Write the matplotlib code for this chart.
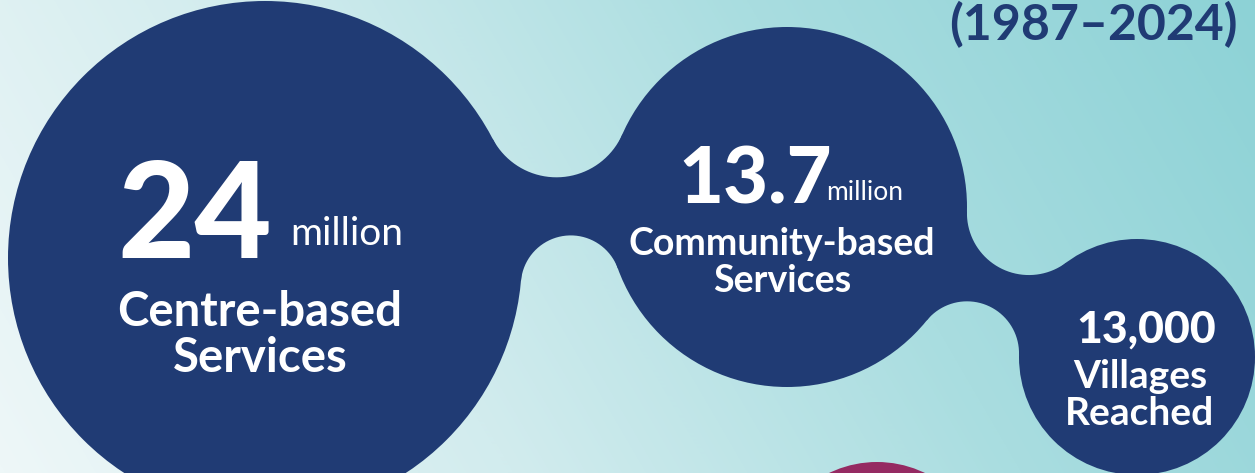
import numpy as np
import matplotlib.pyplot as plt
from matplotlib.colors import LinearSegmentedColormap
from matplotlib.patches import Circle, Polygon
from matplotlib import font_manager

W, H = 1255, 473

# headline figures
values = ["24", "13.7", "13,000"]
units = ["million", "million", ""]
labels = [["Centre-based", "Services"], ["Community-based", "Services"], ["Villages", "Reached"]]
period = "(1987\u20132024)"

# bubble layout in pixels (x, y from top-left)
centres = [(265, 258), (787, 207), (1137, 357)]
radii = [257, 180, 118]
# fillet radii (top side, bottom side) for the necks between neighbours
fillets = [(72, 50), (62, 52)]
NAVY = "#203B74"
PINK = "#952A62"

fams = {f.name for f in font_manager.fontManager.ttflist}
heavy = "Lato" if "Lato" in fams else "DejaVu Sans"

fig = plt.figure(figsize=(W / 100, H / 100), dpi=100)
ax = fig.add_axes([0, 0, 1, 1])
ax.set_xlim(0, W)
ax.set_ylim(H, 0)
ax.axis("off")

# background gradient
xx, yy = np.meshgrid(np.arange(W), np.arange(H))
t = 0.82 * xx / W + 0.18 * (1 - yy / H)
bg = LinearSegmentedColormap.from_list("bg", ["#EEF7F8", "#D2ECEE", "#A9DDE0", "#8DD2D6"])
ax.imshow(t, cmap=bg, extent=[0, W, H, 0], vmin=0, vmax=1, aspect="auto", zorder=0)


def fillet_centre(c1, r1, c2, r2, rf, side):
    c1, c2 = np.array(c1, float), np.array(c2, float)
    D = np.linalg.norm(c2 - c1)
    u = (c2 - c1) / D
    n = np.array([u[1], -u[0]]) * side   # side=+1 -> upward on screen
    R1, R2 = r1 + rf, r2 + rf
    a = (R1**2 - R2**2 + D**2) / (2 * D)
    h = np.sqrt(max(R1**2 - a**2, 0.0))
    return c1 + a * u + h * n


def arc(F, rf, p, q, n=40):
    a0 = np.arctan2(*(p - F)[::-1])
    a1 = np.arctan2(*(q - F)[::-1])
    da = (a1 - a0 + np.pi) % (2 * np.pi) - np.pi
    ang = a0 + np.linspace(0, da, n)
    return np.c_[F[0] + rf * np.cos(ang), F[1] + rf * np.sin(ang)]


def neck(c1, r1, c2, r2, rf_top, rf_bot):
    c1a, c2a = np.array(c1, float), np.array(c2, float)
    pts = [c1a]
    for rf, side in [(rf_top, 1), (rf_bot, -1)]:
        F = fillet_centre(c1, r1, c2, r2, rf, side)
        t1 = c1a + r1 * (F - c1a) / np.linalg.norm(F - c1a)
        t2 = c2a + r2 * (F - c2a) / np.linalg.norm(F - c2a)
        seg = arc(F, rf, t1, t2)
        if side == -1:
            seg = seg[::-1]
        pts.extend(seg)
        pts.append(c2a if side == 1 else c1a)
    return np.array(pts)


for (c, r) in zip(centres, radii):
    ax.add_patch(Circle(c, r, color=NAVY, lw=0, zorder=1))
for i, (rt, rb) in enumerate(fillets):
    poly = neck(centres[i], radii[i], centres[i + 1], radii[i + 1], rt, rb)
    ax.add_patch(Polygon(poly, closed=True, color=NAVY, lw=0, zorder=1))

# partial pink bubble at the bottom
ax.add_patch(Circle((877, 572), 110, color=PINK, lw=0, zorder=1))

# period title
ax.text(1093, 40, period, ha="center", va="baseline", fontsize=36,
        fontweight="bold", color=NAVY, family=heavy, zorder=3)

txt = dict(color="white", family=heavy, zorder=3, va="baseline")

# big numbers + units
ax.text(117, 258, values[0], ha="left", fontsize=96, fontweight="black", **txt)
ax.text(290, 245, units[0], ha="left", fontsize=28, fontweight="normal", **txt)
ax.text(678, 203, values[1], ha="left", fontsize=56, fontweight="black", **txt)
ax.text(826, 200, units[1], ha="left", fontsize=19, fontweight="normal", **txt)
ax.text(1146, 343, values[2], ha="center", fontsize=32, fontweight="black", **txt)

# labels, one line at a time
label_pos = [(260, [326, 372], 34), (782, [255, 292], 27), (1140, [388, 425], 28)]
for lines, (x, ys, fs) in zip(labels, label_pos):
    for line, y in zip(lines, ys):
        ax.text(x, y, line, ha="center", fontsize=fs, fontweight="bold", **txt)

fig.savefig("out.png", dpi=100)
